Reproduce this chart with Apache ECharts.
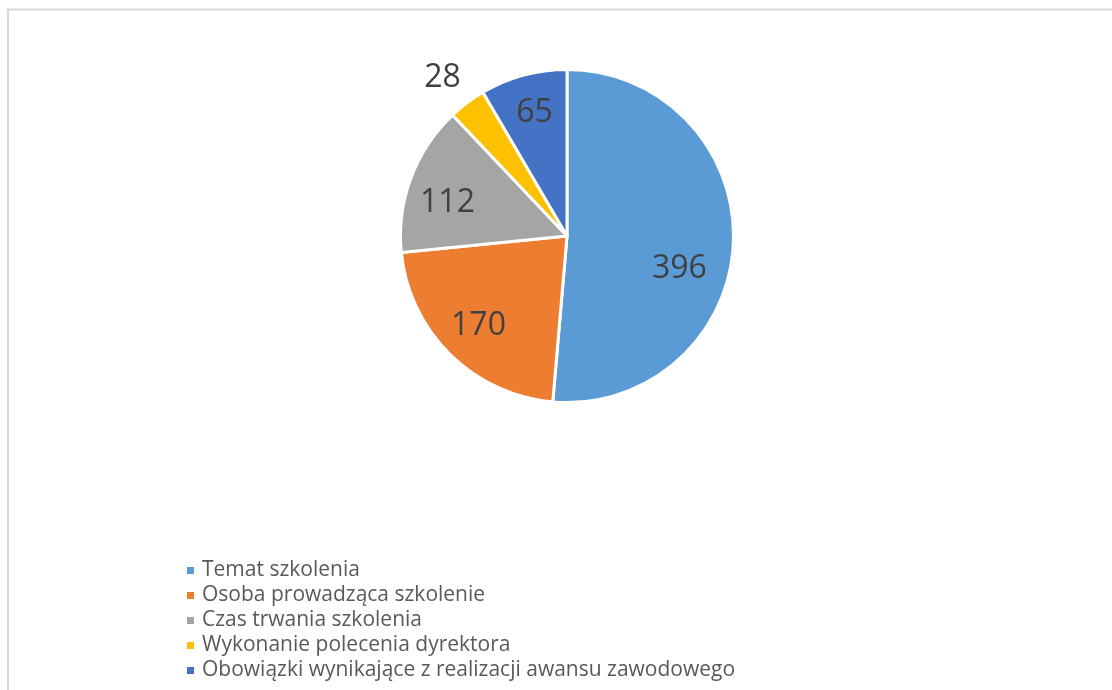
<!DOCTYPE html>
<html>
<head>
<meta charset="utf-8">
<script src="https://cdn.jsdelivr.net/npm/echarts@6/dist/echarts.min.js"></script>
<style>html,body{margin:0;padding:0;background:#fff;}#c{width:1112px;height:690px;}</style>
</head>
<body>
<div id="c"></div>
<script>
const categories = ['Temat szkolenia','Osoba prowadząca szkolenie','Czas trwania szkolenia','Wykonanie polecenia dyrektora','Obowiązki wynikające z realizacji awansu zawodowego'];
const values = [396, 170, 112, 28, 65];
const colors = ['#5B9BD5','#ED7D31','#A5A5A5','#FFC000','#4472C4'];
const labelOffsets = [[-15, 27], [1, -1], [0, 11], [-48, -56], [1, 0]];

const chart = echarts.init(document.getElementById('c'));
const font = "'Open Sans', sans-serif";
const center = [567, 236];
chart.setOption({
  animation: false,
  graphic: [{type:'rect', shape:{x:8, y:9.5, width:1200, height:800}, style:{fill:'none', stroke:'#d9d9d9', lineWidth:2}, silent:true}],
  legend: {
    orient: 'vertical', left: 180, top: 555,
    itemWidth: 9, itemHeight: 9, itemGap: 4, icon: 'rect',
    textStyle: {fontFamily: font, fontSize: 21, color: '#595959', lineHeight: 21, padding:[0,0,0,2]},
    data: categories
  },
  series: [
    {
      type: 'pie', center: center, radius: 166.5, startAngle: 90, clockwise: true,
      label: {show: false}, labelLine: {show: false},
      itemStyle: {borderColor: '#fff', borderWidth: 3},
      emphasis: {disabled: true},
      data: categories.map((n, i) => ({name: n, value: values[i], itemStyle: {color: colors[i]}}))
    },
    {
      type: 'pie', center: center, radius: 249, startAngle: 90, clockwise: true, silent: true,
      legendHoverLink: false,
      itemStyle: {color: 'rgba(0,0,0,0)'},
      label: {show: true, position: 'inside', formatter: '{c}', fontFamily: font, fontSize: 32, color: '#404040'},
      labelLine: {show: false},
      emphasis: {disabled: true},
      data: categories.map((n, i) => ({name: n + ' ', value: values[i], label: {offset: labelOffsets[i]}}))
    }
  ]
});
</script>
</body>
</html>
